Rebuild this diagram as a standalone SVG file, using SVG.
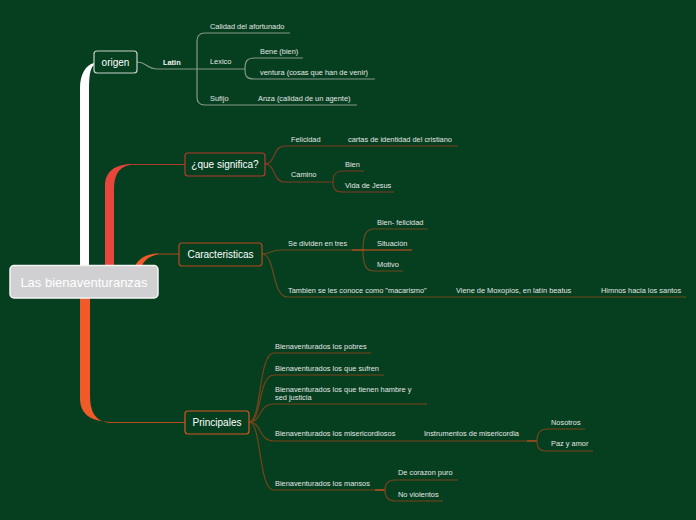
<svg xmlns="http://www.w3.org/2000/svg" width="696" height="520" viewBox="0 0 696 520">
<style>
.t{font-family:"Liberation Sans",Arial,sans-serif;font-size:7.4px;fill:#e4e6e4}
.b{font-weight:bold;fill:#f2f2f2}
.n{font-family:"Liberation Sans",Arial,sans-serif;font-size:10px;fill:#ffffff;text-anchor:middle}
.c{font-family:"Liberation Sans",Arial,sans-serif;font-size:13px;fill:#ffffff;text-anchor:middle}
.g{fill:none;stroke:#84988a;stroke-width:1.2}
.r{fill:none;stroke:#7e3a22;stroke-width:1.2}
.k{fill:none;stroke:#6c4a1e;stroke-width:1.2}
.p{fill:none;stroke:#7a4219;stroke-width:1.2}
.o{fill:none;stroke:#d9521e;stroke-width:1.2}
</style>
<rect x="0" y="0" width="696" height="520" fill="#063f20"/>
<g id="connectors">
  <!-- trunks -->
  <path d="M80,275 L80,88 C80,74 86,65 94,63 L94,65 C90,68 89,76 89,92 L89,275 Z" fill="#ffffff"/>
  <path d="M105,275 L105,186 C105,172 114,165 130,164 L130,165 C118,167 114,176 114,190 L114,275 Z" fill="#e8453c"/>
  <path d="M130,164.5 L185,164.5" fill="none" stroke="#b03a2c" stroke-width="1"/>
  <path d="M134,268 C138,259 145,254 158,253.5 L158,254.5 C148,256 143,262 141,268 Z" fill="#f05a28"/>
  <path d="M156,254 L179,254" fill="none" stroke="#a84a1e" stroke-width="1"/>
  <path d="M80,290 L80,398 C80,414 90,421 110,422 L110,423 C96,421 90,414 90,394 L90,290 Z" fill="#f05a28"/>
  <path d="M108,422.5 L185,422.5" fill="none" stroke="#b84a1c" stroke-width="1"/>

  <!-- origen -->
  <path class="g" d="M137,62 C147,62 146,69 158,69 L245,69"/>
  <path class="g" d="M197,69 L197,41 Q197,33 205,33 L290,33"/>
  <path class="g" d="M197,69 L197,97 Q197,105 205,105 L357,105"/>
  <path class="g" d="M245,69 C245,61 247,58 255,58 L303,58"/>
  <path class="g" d="M245,69 C245,77 247,79 255,79 L375,79"/>

  <!-- que significa -->
  <path class="r" d="M265,164 C276,164 272,146 285,146 L458,146"/>
  <path class="r" d="M265,164 C276,164 272,182 285,182 L333,182"/>
  <path class="r" d="M333,182 C333,174 336,171 343,171 L364,171"/>
  <path class="r" d="M333,182 C333,190 336,192 343,192 L394,192"/>

  <!-- caracteristicas -->
  <path class="k" d="M262,254 C272,254 270,250 281,250 L363,250"/>
  <path class="k" d="M262,254 C276,254 271,297 288,297 L686,297"/>
  <path class="k" d="M363,250 C363,235 366,229 374,229 L428,229"/>
  <path class="k" d="M363,250 C363,265 366,271 374,271 L403,271"/>
  <path class="o" d="M352,250 L412,250"/>

  <!-- principales -->
  <path class="p" d="M249,422 C262,422 258,353 274,353 L371,353"/>
  <path class="p" d="M249,422 C262,422 258,375 274,375 L384,375"/>
  <path class="p" d="M249,422 C262,422 258,404 274,404 L427,404"/>
  <path class="p" d="M249,422 C262,422 258,441 274,441 L527,441"/>
  <path class="p" d="M249,422 C262,422 258,490 274,490 L385,490"/>
  <path class="o" d="M527,441 L537,441"/>
  <path class="p" d="M537,441 C537,433 540,429 547,429 L585,429"/>
  <path class="p" d="M537,441 C537,449 540,451 547,451 L593,451"/>
  <path class="o" d="M375,490 L385,490"/>
  <path class="p" d="M385,490 C385,483 388,480 395,480 L458,480"/>
  <path class="p" d="M385,490 C385,497 388,501 395,501 L443,501"/>
</g>

<g id="central">
  <rect x="10" y="265.5" width="148" height="32.5" rx="4" fill="#d0d0d2" stroke="#f4f4f4" stroke-width="1.5"/>
  <text class="c" x="84" y="286.5">Las bienaventuranzas</text>
</g>
<g id="origen">
  <rect x="94" y="51" width="43" height="22" rx="3" fill="#063f20" stroke="#c9d2cb" stroke-width="1.2"/>
  <text class="n" x="115.5" y="65.5">origen</text>
</g>
<g id="que-significa">
  <rect x="185" y="153" width="80" height="23" rx="3" fill="#063f20" stroke="#b8392c" stroke-width="1.2"/>
  <text class="n" x="225" y="167.5">¿que significa?</text>
</g>
<g id="caracteristicas">
  <rect x="179" y="243" width="83" height="23" rx="3" fill="#063f20" stroke="#b54a1c" stroke-width="1.2"/>
  <text class="n" x="220.5" y="257.5">Caracteristicas</text>
</g>
<g id="principales">
  <rect x="185" y="411" width="64" height="23" rx="3" fill="#063f20" stroke="#d8561e" stroke-width="1.2"/>
  <text class="n" x="217" y="425.5">Principales</text>
</g>

<g id="origen-topics">
  <text class="t b" x="163" y="64.6">Latin</text>
  <text class="t" x="210" y="28.6">Calidad del afortunado</text>
  <text class="t" x="210" y="63.6">Lexico</text>
  <text class="t" x="260" y="53.6">Bene (bien)</text>
  <text class="t" x="260" y="74.6">ventura (cosas que han de venir)</text>
  <text class="t" x="210" y="100.6">Sufijo</text>
  <text class="t" x="258" y="100.6">Anza (calidad de un agente)</text>
</g>
<g id="significa-topics">
  <text class="t" x="291" y="141.6">Felicidad</text>
  <text class="t" x="348" y="141.6">cartas de identidad del cristiano</text>
  <text class="t" x="291" y="176.6">Camino</text>
  <text class="t" x="345" y="166.6">Bien</text>
  <text class="t" x="345" y="187.6">Vida de Jesus</text>
</g>
<g id="caracteristicas-topics">
  <text class="t" x="288" y="245.6">Se dividen en tres</text>
  <text class="t" x="377" y="224.6">Bien- felicidad</text>
  <text class="t" x="377" y="245.6">Situación</text>
  <text class="t" x="377" y="266.6">Motivo</text>
  <text class="t" x="288" y="292.6">Tambien se les conoce como "macarismo"</text>
  <text class="t" x="456" y="292.6">Viene de Moxopios, en latín beatus</text>
  <text class="t" x="601" y="292.6">Himnos hacia los santos</text>
</g>
<g id="principales-topics">
  <text class="t" x="275" y="348.6">Bienaventurados los pobres</text>
  <text class="t" x="275" y="370.6">Bienaventurados los que sufren</text>
  <text class="t" x="275" y="391.6">Bienaventurados los que tienen hambre y</text>
  <text class="t" x="275" y="399.6">sed justicia</text>
  <text class="t" x="275" y="435.6">Bienaventurados los misericordiosos</text>
  <text class="t" x="424" y="435.6">Instrumentos de misericordia</text>
  <text class="t" x="551" y="424.6">Nosotros</text>
  <text class="t" x="551" y="445.6">Paz y amor</text>
  <text class="t" x="275" y="485.6">Bienaventurados los mansos</text>
  <text class="t" x="398" y="474.6">De corazon puro</text>
  <text class="t" x="398" y="496.6">No violentos</text>
</g>
</svg>
